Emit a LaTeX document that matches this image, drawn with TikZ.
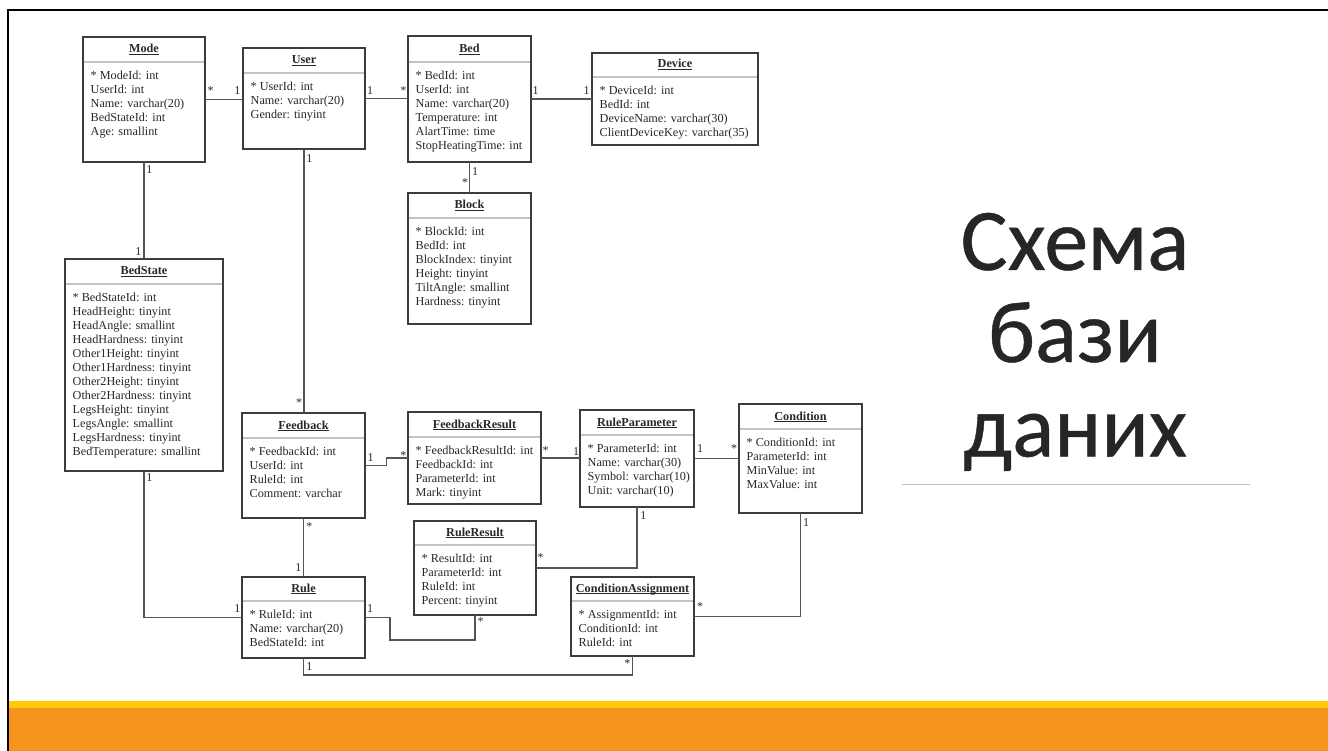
\documentclass[tikz,border=0pt]{standalone}
\usepackage{fontspec}
\setmainfont{Liberation Serif}
\newfontfamily\titlefont[FakeBold=0.5]{Carlito}
\usetikzlibrary{calc}
\definecolor{boxline}{RGB}{60,60,60}
\definecolor{conline}{RGB}{85,85,85}
\definecolor{sepline}{RGB}{195,195,195}
\definecolor{txt}{RGB}{40,40,40}
\definecolor{ttl}{RGB}{38,38,38}
\definecolor{bandyellow}{RGB}{255,200,10}
\definecolor{bandorange}{RGB}{247,148,30}
\definecolor{rulegray}{RGB}{191,191,191}
\newsavebox{\ulbox}
\newcommand{\ulinetext}[1]{\sbox{\ulbox}{#1}\rlap{\rule[-2pt]{\wd\ulbox}{0.8pt}}\usebox{\ulbox}}
\tikzset{
 umlbox/.style={draw=boxline, line width=1.3pt, fill=white, inner sep=0pt, outer sep=0pt},
 umlsep/.style={draw=sepline, line width=1.3pt},
 umlhead/.style={inner sep=0pt, font=\fontsize{12.2}{14}\selectfont\bfseries, text=txt},
 umlattr/.style={inner sep=0pt, font=\fontsize{12.2}{14}\selectfont, text=txt},
 conn/.style={draw=conline, line width=1.2pt},
 mult/.style={inner sep=0pt, anchor=base, font=\fontsize{12}{14}\selectfont, text=txt},
 titletext/.style={inner sep=0pt, anchor=base, font=\titlefont\fontsize{88}{93}\selectfont, text=ttl},
}
\newcommand{\umlclass}[8]{%
  \node[umlbox, minimum width={#4-#2}, minimum height={#5-#3}, anchor=north west] (#1) at (#2,#3) {};
  \draw[umlsep] ({#2+0.7},#6) -- ({#4-0.7},#6);
  \node[umlhead, anchor=base] (#1-h) at ({(#2+#4)/2},{#6-9}) {\ulinetext{#7}};
  \foreach \aline [count=\i] in {#8} {
    \node[umlattr, anchor=base west] (#1-\i) at ({#2+7.5},{#6+17.8+14*(\i-1)}) {\aline};
  }%
}
\begin{document}
\begin{tikzpicture}[x=1pt,y=-1pt]
\useasboundingbox (0,0) rectangle (1328,751);
\fill[white] (0,0) rectangle (1328,751);
% slide frame and band
\draw[black, line width=1.7pt] (1328,10) -- (8,10) -- (8,751);
\fill[bandyellow] (9,701) rectangle (1328,708);
\fill[bandorange] (9,708) rectangle (1328,751);
% classes
\umlclass{Mode}{83}{37}{205}{162}{62}{Mode}{* ModeId: int, UserId: int, Name: varchar(20), BedStateId: int, Age: smallint}
\umlclass{User}{243}{48}{365}{149}{73}{User}{* UserId: int, Name: varchar(20), Gender: tinyint}
\umlclass{Bed}{408}{36}{531}{162}{62}{Bed}{* BedId: int, UserId: int, Name: varchar(20), Temperature: int, AlartTime: time, StopHeatingTime: int}
\umlclass{Device}{592}{53}{758}{145}{77}{Device}{* DeviceId: int, BedId: int, DeviceName: varchar(30), ClientDeviceKey: varchar(35)}
\umlclass{Block}{408}{193}{531}{324}{218}{Block}{* BlockId: int, BedId: int, BlockIndex: tinyint, Height: tinyint, TiltAngle: smallint, Hardness: tinyint}
\umlclass{BedState}{65}{259}{223}{471}{284}{BedState}{* BedStateId: int, HeadHeight: tinyint, HeadAngle: smallint, HeadHardness: tinyint, Other1Height: tinyint, Other1Hardness: tinyint, Other2Height: tinyint, Other2Hardness: tinyint, LegsHeight: tinyint, LegsAngle: smallint, LegsHardness: tinyint, BedTemperature: smallint}
\umlclass{Feedback}{242}{413}{365}{518}{438}{Feedback}{* FeedbackId: int, UserId: int, RuleId: int, Comment: varchar}
\umlclass{FeedbackResult}{408}{412}{541}{504}{437}{FeedbackResult}{* FeedbackResultId: int, FeedbackId: int, ParameterId: int, Mark: tinyint}
\umlclass{RuleParameter}{580}{410}{694}{507}{435}{RuleParameter}{* ParameterId: int, Name: varchar(30), Symbol: varchar(10), Unit: varchar(10)}
\umlclass{Condition}{739}{404}{862}{513}{429}{Condition}{* ConditionId: int, ParameterId: int, MinValue: int, MaxValue: int}
\umlclass{RuleResult}{414}{521}{536}{615}{545}{RuleResult}{* ResultId: int, ParameterId: int, RuleId: int, Percent: tinyint}
\umlclass{Rule}{242}{577}{365}{658}{601}{Rule}{* RuleId: int, Name: varchar(20), BedStateId: int}
\umlclass{ConditionAssignment}{571}{577}{694}{656}{601}{ConditionAssignment}{* AssignmentId: int, ConditionId: int, RuleId: int}
% connectors
\draw[conn] (Mode.east) -- (Mode.east -| User.west);
\draw[conn] (User.east) -- (User.east -| Bed.west);
\draw[conn] (Bed.east) -- (Bed.east -| Device.west);
\draw[conn] (Bed.south) -- (Bed.south |- Block.north);
\draw[conn] (Mode.south) -- (Mode.south |- BedState.north);
\draw[conn] (User.south) -- (User.south |- Feedback.north);
\draw[conn] (Feedback.south) -- (Feedback.south |- Rule.north);
\coordinate (fbm) at ($(Feedback.east)!0.5!(FeedbackResult.west)$);
\draw[conn] (Feedback.east) -- (Feedback.east -| fbm) -- (FeedbackResult.west -| fbm) -- (FeedbackResult.west);
\draw[conn] (FeedbackResult.east) -- (FeedbackResult.east -| RuleParameter.west);
\draw[conn] (RuleParameter.east) -- (RuleParameter.east -| Condition.west);
\draw[conn] (RuleParameter.south) |- (RuleResult.east);
\coordinate (rrb) at (390,640);
\draw[conn] (Rule.east) -| (rrb) -| (RuleResult.south);
\draw[conn] (Condition.south) |- (ConditionAssignment.east);
\coordinate (rcb) at ($(Rule.south)+(0,17)$);
\draw[conn] (Rule.south) -- (rcb) -| (ConditionAssignment.south);
\draw[conn] (BedState.south) |- (Rule.west);
% multiplicities
\node[mult] (m1) at (210.7,95) {*};
\node[mult] (m2) at (237.3,95) {1};
\node[mult] (m3) at (370,95) {1};
\node[mult] (m4) at (403.3,95) {*};
\node[mult] (m5) at (535.7,95) {1};
\node[mult] (m6) at (586.7,95) {1};
\node[mult] (m7) at (149.3,174) {1};
\node[mult] (m8) at (138.3,255.7) {1};
\node[mult] (m9) at (475,175.7) {1};
\node[mult] (m10) at (465,187) {*};
\node[mult] (m11) at (309.3,162.3) {1};
\node[mult] (m12) at (299,406.5) {*};
\node[mult] (m13) at (149.3,481.5) {1};
\node[mult] (m14) at (237.3,612.3) {1};
\node[mult] (m15) at (370.7,461) {1};
\node[mult] (m16) at (403.3,459) {*};
\node[mult] (m17) at (545.7,454) {*};
\node[mult] (m18) at (576,455) {1};
\node[mult] (m19) at (700,452.7) {1};
\node[mult] (m20) at (734,452) {*};
\node[mult] (m21) at (643.3,519) {1};
\node[mult] (m22) at (540.7,561.5) {*};
\node[mult] (m23) at (309.3,530) {*};
\node[mult] (m24) at (298.3,571.7) {1};
\node[mult] (m25) at (370,612.3) {1};
\node[mult] (m26) at (480.7,625.5) {*};
\node[mult] (m27) at (806,526.7) {1};
\node[mult] (m28) at (700,610.5) {*};
\node[mult] (m29) at (309.3,670.7) {1};
\node[mult] (m30) at (627.3,667) {*};
% title
\node[titletext] (t1) at (1075,270) {Схема};
\node[titletext] (t2) at (1075,362) {бази};
\node[titletext] (t3) at (1075,456.5) {даних};
\coordinate (ul1) at (902,484);
\coordinate (ul2) at (1250,484);
\draw[rulegray, line width=1pt] (ul1) -- (ul2);
\end{tikzpicture}
\end{document}
